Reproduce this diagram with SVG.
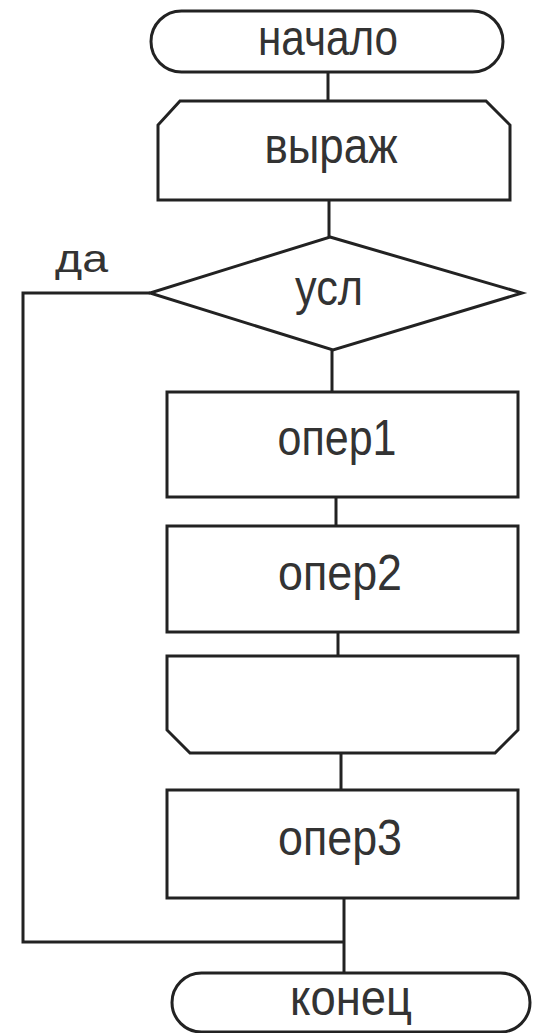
<svg xmlns="http://www.w3.org/2000/svg" width="535" height="1033" viewBox="0 0 535 1033">
<style>
.s{fill:#fff;stroke:#222;stroke-width:3;stroke-linejoin:miter}
.c{fill:none;stroke:#222;stroke-width:3}
.t{font-family:"Liberation Sans",Arial,sans-serif;font-size:50px;fill:#333;text-anchor:middle}
.l{font-family:"Liberation Sans",Arial,sans-serif;font-size:38px;fill:#333}
</style>
<rect width="535" height="1033" fill="#fff"/>
<g id="connectors">
<line class="c" x1="328" y1="72" x2="328" y2="101"/>
<line class="c" x1="329" y1="200" x2="329" y2="237"/>
<line class="c" x1="332" y1="350" x2="332" y2="392"/>
<line class="c" x1="336" y1="497" x2="336" y2="526"/>
<line class="c" x1="338" y1="632" x2="338" y2="656"/>
<line class="c" x1="341" y1="753" x2="341" y2="790"/>
<line class="c" x1="344" y1="898" x2="344" y2="973"/>
<polyline class="c" points="150,293 23,293 23,942 344,942"/>
<text class="l" x="55" y="272" textLength="53" lengthAdjust="spacingAndGlyphs">да</text>
</g>
<g id="start">
<rect class="s" x="151" y="11" width="352" height="61" rx="30.5"/>
<text class="t" x="328" y="55" textLength="140" lengthAdjust="spacingAndGlyphs">начало</text>
</g>
<g id="expr">
<polygon class="s" points="180,101 486,101 510,125 510,200 158,200 158,125"/>
<text class="t" x="331" y="163" textLength="133" lengthAdjust="spacingAndGlyphs">выраж</text>
</g>
<g id="cond">
<polygon class="s" points="330,237 522,293 333,350 150,293"/>
<text class="t" x="329" y="305" textLength="68" lengthAdjust="spacingAndGlyphs">усл</text>
</g>
<g id="op1">
<rect class="s" x="167" y="392" width="351" height="105"/>
<text class="t" x="337" y="455" textLength="119" lengthAdjust="spacingAndGlyphs">опер1</text>
</g>
<g id="op2">
<rect class="s" x="167" y="526" width="351" height="106"/>
<text class="t" x="340" y="590" textLength="124" lengthAdjust="spacingAndGlyphs">опер2</text>
</g>
<g id="loopend">
<polygon class="s" points="167,656 518,656 518,730 495,753 190,753 167,730"/>
</g>
<g id="op3">
<rect class="s" x="167" y="790" width="351" height="108"/>
<text class="t" x="340" y="855" textLength="124" lengthAdjust="spacingAndGlyphs">опер3</text>
</g>
<g id="end">
<rect class="s" x="172" y="973" width="358" height="59" rx="29.5"/>
<text class="t" x="351" y="1015" textLength="122" lengthAdjust="spacingAndGlyphs">конец</text>
</g>
</svg>
